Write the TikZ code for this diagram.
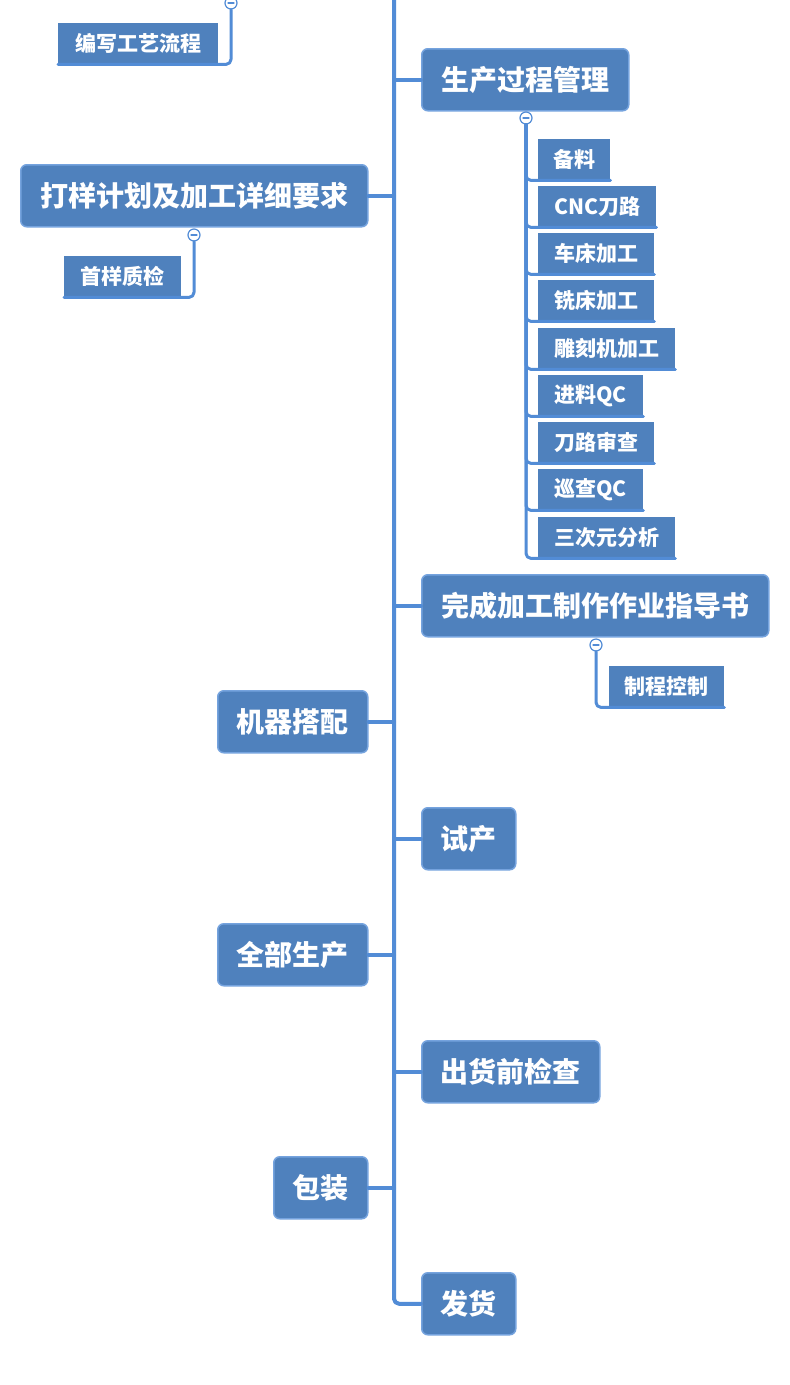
\documentclass[tikz,border=0pt]{standalone}
\usepackage{fontspec}
\newfontfamily\cjk{Noto Sans CJK SC}
\definecolor{boxblue}{RGB}{79,129,189}
\definecolor{linkblue}{RGB}{82,140,214}
\begin{document}
\begin{tikzpicture}[x=1pt, y=-1pt, line join=round, line cap=round,
	big/.style={draw=linkblue!80!white, line width=1.5pt, fill=boxblue, rounded corners=6pt,
		text=white, font=\cjk\bfseries\fontsize{28}{30}\selectfont,
		minimum height=62pt, inner sep=0pt, anchor=north west},
	small/.style={fill=boxblue, text=white, font=\cjk\bfseries\fontsize{21}{24}\selectfont,
		minimum height=41pt, inner sep=0pt, anchor=north west},
	spine/.style={draw=linkblue, line width=4pt},
	twig/.style={draw=linkblue, line width=3pt, rounded corners=5pt},
	fold/.style={circle, draw=linkblue, fill=white, line width=1.2pt, minimum size=12pt, inner sep=0pt,
		path picture={\draw[linkblue, line width=1.2pt] ([xshift=-3pt]path picture bounding box.center)
			-- ([xshift=3pt]path picture bounding box.center);}}]
	\useasboundingbox[fill=white] (0,0) rectangle (790,1385);
	\coordinate (top) at (394,0);
	% main boxes
	\node[big, minimum width=207pt] (scgl) at (421,48) {生产过程管理};
	\node[big, minimum width=347pt] (dyjh) at (20,164) {打样计划及加工详细要求};
	\node[big, minimum width=347pt] (zdsh) at (421,574) {完成加工制作作业指导书};
	\node[big, minimum width=150pt] (jqdp) at (217,690) {机器搭配};
	\node[big, minimum width=94pt] (sc) at (421,807) {试产};
	\node[big, minimum width=150pt] (qbsc) at (217,923) {全部生产};
	\node[big, minimum width=178pt] (chjc) at (421,1040) {出货前检查};
	\node[big, minimum width=94pt] (bz) at (273,1156) {包装};
	\node[big, minimum width=94pt] (fh) at (421,1272) {发货};
	% small boxes
	\node[small, minimum width=160pt] (bxlc) at (58,23) {编写工艺流程};
	\node[small, minimum width=117pt] (syzj) at (64,256) {首样质检};
	\node[small, minimum width=115pt] (zckz) at (609,666) {制程控制};
	\node[small, minimum width=72pt] (bl) at (538,139) {备料};
	\node[small, minimum width=118pt] (cnc) at (538,186) {CNC刀路};
	\node[small, minimum width=116pt] (ccjg) at (538,233) {车床加工};
	\node[small, minimum width=116pt] (xcjg) at (538,280) {铣床加工};
	\node[small, minimum width=137pt] (dkjg) at (538,328) {雕刻机加工};
	\node[small, minimum width=105pt] (jlqc) at (538,375) {进料QC};
	\node[small, minimum width=116pt] (dlsc) at (538,422) {刀路审查};
	\node[small, minimum width=105pt] (xcqc) at (538,469) {巡查QC};
	\node[small, minimum width=137pt] (scy) at (538,517) {三次元分析};
	% fold buttons
	\node[fold] (f0) at (231,3) {};
	\node[fold] (f1) at (526,118) {};
	\node[fold] (f2) at (194,235) {};
	\node[fold] (f3) at (596,645) {};
	% spine and branches
	\draw[spine, rounded corners=5pt] (top) |- (fh.west);
	\foreach \n in {scgl,zdsh,sc,chjc}
		\draw[spine] (\n.west) -- (\n.west -| top);
	\foreach \n in {dyjh,jqdp,qbsc,bz}
		\draw[spine] (\n.east) -- (\n.east -| top);
	% children
	\foreach \n in {bl,cnc,ccjg,xcjg,dkjg,jlqc,dlsc,xcqc,scy}
		\draw[twig] (f1.south) |- (\n.south east);
	\draw[twig] (f0.south) |- (bxlc.south west);
	\draw[twig] (f2.south) |- (syzj.south west);
	\draw[twig] (f3.south) |- (zckz.south east);
\end{tikzpicture}
\end{document}
